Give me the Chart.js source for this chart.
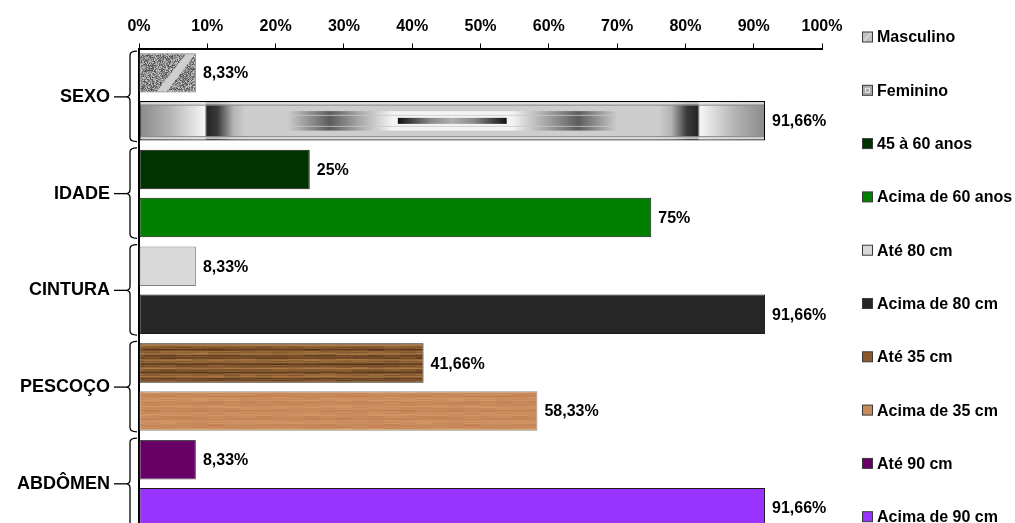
<!DOCTYPE html>
<html lang="pt-BR">
<head>
<meta charset="UTF-8">
<script src="https://cdn.jsdelivr.net/npm/chart.js"></script>
<title>Perfil dos participantes</title>
<style>
  html, body { margin: 0; padding: 0; background: #fff; overflow: hidden; }
  canvas { display: block; }
</style>
</head>
<body>
<canvas id="grafico" width="1015" height="572"></canvas>
<script>
// dados
const grupos = ['SEXO', 'IDADE', 'CINTURA', 'PESCOÇO', 'ABDÔMEN'];
const series = ['Masculino', 'Feminino', '45 à 60 anos', 'Acima de 60 anos', 'Até 80 cm',
                'Acima de 80 cm', 'Até 35 cm', 'Acima de 35 cm', 'Até 90 cm', 'Acima de 90 cm'];
const valores = [8.33, 91.66, 25, 75, 8.33, 91.66, 41.66, 58.33, 8.33, 91.66];
const grupoDaSerie = [0, 0, 1, 1, 2, 2, 3, 3, 4, 4];
const ticksX = [0, 10, 20, 30, 40, 50, 60, 70, 80, 90, 100];

// estilo
const FONTE = "'Liberation Sans', Arial, sans-serif";
const coresLegenda = ['#c2c2c2', '#a9a9a9', '#003300', '#008000', '#d9d9d9',
                      '#262626', '#8b5a2b', '#c98b5a', '#660066', '#9933ff'];
const bordas = ['#7f7f7f', '#000000', '#1a1a1a', '#1a1a1a', '#7f7f7f',
                '#1a1a1a', '#2a1a0a', '#8a8a8a', '#4d4d4d', '#1a1a1a'];

const canvas = document.getElementById('grafico');
const ctx = canvas.getContext('2d');

function ruido(x, y) {
    let n = Math.imul(x, 374761393) + Math.imul(y, 668265263);
    n = Math.imul(n ^ (n >>> 13), 1274126177);
    return ((n ^ (n >>> 16)) >>> 0) / 4294967296;
}

function texturaGranulada() {
    const c = document.createElement('canvas');
    c.width = 64; c.height = 64;
    const g = c.getContext('2d');
    const img = g.createImageData(64, 64);
    for (let y = 0; y < 64; y++) {
        for (let x = 0; x < 64; x++) {
            const v = 70 + ruido(x, y) * 135;
            const i = (y * 64 + x) * 4;
            img.data[i] = img.data[i + 1] = img.data[i + 2] = v;
            img.data[i + 3] = 255;
        }
    }
    g.putImageData(img, 0, 0);
    return ctx.createPattern(c, 'repeat');
}

function texturaMadeira(escuro, claro, amp, fase) {
    const c = document.createElement('canvas');
    c.width = 256; c.height = 48;
    const g = c.getContext('2d');
    const img = g.createImageData(256, 48);
    for (let y = 0; y < 48; y++) {
        const veio = 0.55 + amp * (0.6 * Math.sin(y * 0.83 + fase) + 0.4 * Math.sin(y * 2.2 + fase * 2));
        for (let x = 0; x < 256; x++) {
            let t = veio + (ruido((x >> 4) + fase * 50, y) - 0.5) * 0.25 + (ruido(x, y + 99) - 0.5) * 0.08;
            t = Math.max(0, Math.min(1, t));
            const i = (y * 256 + x) * 4;
            for (let k = 0; k < 3; k++) img.data[i + k] = escuro[k] + (claro[k] - escuro[k]) * t;
            img.data[i + 3] = 255;
        }
    }
    g.putImageData(img, 0, 0);
    return ctx.createPattern(c, 'repeat');
}

const preenchimentos = [
    texturaGranulada(),
    '#cdcdcd',
    '#003300',
    '#008000',
    '#d9d9d9',
    '#262626',
    texturaMadeira([80, 45, 20], [175, 125, 70], 0.42, 0.3),
    texturaMadeira([178, 112, 68], [222, 162, 112], 0.18, 1.7),
    '#660066',
    '#9933ff'
];

const datasets = series.map((nome, i) => ({
    label: nome,
    data: grupos.map((g, gi) => gi === grupoDaSerie[i] ? valores[i] : null),
    backgroundColor: preenchimentos[i],
    borderColor: bordas[i],
    borderWidth: i === 1 ? 1.5 : 1,
    borderSkipped: false,
    barPercentage: 0.823,
    categoryPercentage: 0.992,
    skipNull: true
}));

function gradienteX(c, x0, x1, paradas) {
    const gr = c.createLinearGradient(x0, 0, x1, 0);
    paradas.forEach(([p, cor]) => gr.addColorStop(p, cor));
    return gr;
}

// faixa clara do Masculino e relevo metálico do Feminino
const detalhesBarras = {
    id: 'detalhesBarras',
    afterDatasetDraw(chart, args) {
        const i = args.index;
        if (i > 1) return;
        const el = args.meta.data[grupoDaSerie[i]];
        const L = el.base, R = el.x, T = el.y - el.height / 2, B = el.y + el.height / 2;
        const w = R - L, h = B - T;
        const c = chart.ctx;
        c.save();
        c.beginPath();
        c.rect(L + 1, T + 1, w - 2, h - 2);
        c.clip();
        if (i === 0) {
            c.fillStyle = '#cfcfcf';
            c.beginPath();
            c.moveTo(L + 0.29 * w, B);
            c.lineTo(L + 0.47 * w, B);
            c.lineTo(L + 1.0 * w, T);
            c.lineTo(L + 0.84 * w, T);
            c.closePath();
            c.fill();
        } else {
            c.fillStyle = gradienteX(c, L, R, [
                [0, '#8a8a8a'], [0.05, '#b5b5b5'], [0.104, '#f6f6f6'], [0.108, '#262626'],
                [0.125, '#3a3a3a'], [0.15, '#b4b4b4'], [0.17, '#cdcdcd'], [0.83, '#cdcdcd'],
                [0.85, '#b4b4b4'], [0.875, '#3a3a3a'], [0.892, '#262626'], [0.896, '#f6f6f6'],
                [0.95, '#b5b5b5'], [1, '#8a8a8a']
            ]);
            c.fillRect(L, T, w, h);
            c.fillStyle = 'rgba(225,225,225,0.85)';
            c.fillRect(L, T + 1, w, 2.5);
            c.fillRect(L, B - 3.5, w, 2.5);
            c.fillStyle = '#8c8c8c';
            c.fillRect(L, T + 3.5, w, 1);
            c.fillRect(L, B - 4.5, w, 1);
            const a = L + 0.235 * w, b = L + 0.765 * w;
            c.fillStyle = gradienteX(c, a, b, [
                [0, '#cfcfcf'], [0.13, '#5c5c5c'], [0.22, '#a8a8a8'], [0.32, '#f4f4f4'],
                [0.68, '#f4f4f4'], [0.78, '#a8a8a8'], [0.88, '#5c5c5c'], [1, '#cfcfcf']
            ]);
            c.fillRect(a, T + 10, b - a, h - 20);
            c.fillStyle = 'rgba(200,200,200,0.8)';
            c.fillRect(a, el.y - 6, b - a, 1);
            c.fillRect(a, el.y + 5, b - a, 1);
            const m = L + 0.413 * w, n = L + 0.587 * w;
            c.fillStyle = gradienteX(c, m, n, [
                [0, '#111111'], [0.3, '#8a8a8a'], [0.5, '#b0b0b0'], [0.7, '#8a8a8a'], [1, '#111111']
            ]);
            c.fillRect(m, el.y - 3, n - m, 6);
        }
        c.restore();
    }
};

// rótulos com o valor no fim de cada barra
const rotulosValores = {
    id: 'rotulosValores',
    afterDatasetsDraw(chart) {
        const c = chart.ctx;
        c.save();
        c.font = 'bold 16px ' + FONTE;
        c.fillStyle = '#000';
        c.textAlign = 'left';
        c.textBaseline = 'middle';
        valores.forEach((v, i) => {
            const el = chart.getDatasetMeta(i).data[grupoDaSerie[i]];
            c.fillText(String(v).replace('.', ',') + '%', el.x + 7, el.y + 1);
        });
        c.restore();
    }
};

// chaves à esquerda de cada grupo
const chaves = {
    id: 'chaves',
    afterDraw(chart) {
        const c = chart.ctx;
        const yEixo = chart.scales.y;
        const xr = chart.chartArea.left - 2, xl = xr - 7, ponta = xr - 11;
        c.save();
        c.strokeStyle = '#000';
        c.lineWidth = 1.3;
        grupos.forEach((g, gi) => {
            let topo = Infinity, base = -Infinity;
            grupoDaSerie.forEach((gs, i) => {
                if (gs !== gi) return;
                const el = chart.getDatasetMeta(i).data[gi];
                topo = Math.min(topo, el.y - el.height / 2);
                base = Math.max(base, el.y + el.height / 2);
            });
            topo -= 2; base += 1;
            const meio = yEixo.getPixelForValue(gi);
            c.beginPath();
            c.moveTo(xr, topo);
            c.quadraticCurveTo(xl, topo, xl, topo + 4);
            c.lineTo(xl, meio - 4);
            c.quadraticCurveTo(xl, meio, ponta, meio);
            c.quadraticCurveTo(xl, meio, xl, meio + 4);
            c.lineTo(xl, base - 4);
            c.quadraticCurveTo(xl, base, xr, base);
            c.stroke();
            c.beginPath();
            c.moveTo(ponta - 12, meio);
            c.lineTo(ponta, meio);
            c.stroke();
        });
        c.restore();
    }
};

// legenda à direita
const legendaLateral = {
    id: 'legendaLateral',
    afterDraw(chart) {
        const c = chart.ctx;
        c.save();
        c.font = 'bold 16px ' + FONTE;
        c.textAlign = 'left';
        c.textBaseline = 'middle';
        series.forEach((nome, i) => {
            const y = 37 + 53.3 * i;
            c.fillStyle = coresLegenda[i];
            c.fillRect(862.5, y - 5, 10, 10);
            c.strokeStyle = '#3a3a3a';
            c.lineWidth = 1;
            c.strokeRect(862.5, y - 5, 10, 10);
            if (i === 0) {
                c.strokeStyle = '#f0f0f0';
                c.beginPath(); c.moveTo(864, y + 4); c.lineTo(871, y - 4); c.stroke();
            } else if (i === 1) {
                c.strokeStyle = '#ececec';
                c.strokeRect(865.5, y - 2, 4, 4);
            }
            c.fillStyle = '#000';
            c.fillText(nome, 877, y + 1);
        });
        c.restore();
    }
};

new Chart(canvas, {
    type: 'bar',
    data: { labels: grupos, datasets },
    options: {
        indexAxis: 'y',
        responsive: false,
        animation: false,
        layout: { padding: { top: 0, right: 193, bottom: 6, left: 0 } },
        plugins: {
            legend: { display: false },
            tooltip: { enabled: false }
        },
        scales: {
            x: {
                type: 'linear',
                position: 'top',
                min: 0,
                max: 100,
                afterBuildTicks: s => { s.ticks = ticksX.map(v => ({ value: v })); },
                afterFit: s => { s.height = 48.5; },
                ticks: {
                    callback: v => v + '%',
                    color: '#000',
                    padding: 7.5,
                    font: { family: FONTE, size: 16, weight: 'bold' }
                },
                grid: { drawOnChartArea: false, drawTicks: true, tickLength: 5, color: '#000', lineWidth: 1 },
                border: { color: '#000', width: 2 }
            },
            y: {
                type: 'category',
                afterFit: s => { s.width = 139; },
                ticks: {
                    color: '#000',
                    padding: 29,
                    font: { family: FONTE, size: 18, weight: 'bold' }
                },
                grid: { display: false, drawTicks: false },
                border: { color: '#000', width: 2 }
            }
        }
    },
    plugins: [detalhesBarras, rotulosValores, chaves, legendaLateral]
});
</script>
</body>
</html>
